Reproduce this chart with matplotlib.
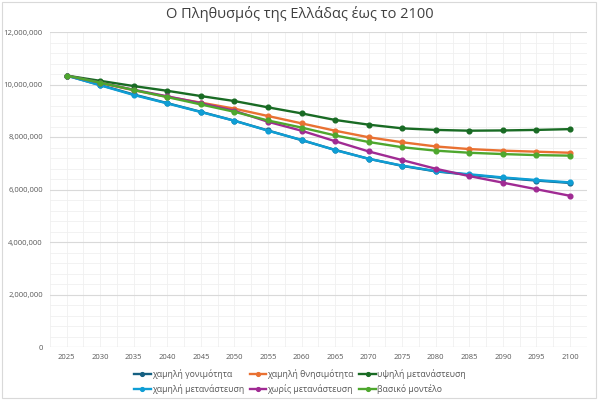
import numpy as np
import matplotlib
matplotlib.use("Agg")
import matplotlib.pyplot as plt
from matplotlib.ticker import FuncFormatter, MultipleLocator
from matplotlib.patches import Rectangle

years = [str(y) for y in range(2025, 2101, 5)]

# values in millions
low_fertility = [10.34, 9.98, 9.62, 9.29, 8.96, 8.62, 8.25, 7.88, 7.51, 7.17, 6.90, 6.69, 6.56, 6.44, 6.34, 6.25]
low_mortality = [10.34, 10.06, 9.78, 9.53, 9.31, 9.08, 8.80, 8.52, 8.24, 7.99, 7.80, 7.64, 7.54, 7.48, 7.44, 7.40]
high_migration = [10.34, 10.14, 9.94, 9.76, 9.56, 9.37, 9.13, 8.90, 8.65, 8.47, 8.33, 8.27, 8.24, 8.25, 8.27, 8.30]
low_migration = [10.34, 9.97, 9.60, 9.28, 8.95, 8.62, 8.24, 7.89, 7.50, 7.17, 6.91, 6.70, 6.58, 6.46, 6.36, 6.27]
no_migration = [10.34, 10.07, 9.80, 9.55, 9.29, 9.00, 8.58, 8.24, 7.84, 7.45, 7.12, 6.79, 6.51, 6.26, 6.01, 5.76]
base_model = [10.34, 10.07, 9.79, 9.52, 9.24, 8.96, 8.63, 8.36, 8.06, 7.81, 7.61, 7.48, 7.40, 7.35, 7.31, 7.29]

series = [
    ("χαμηλή γονιμότητα", low_fertility, "#156082"),
    ("χαμηλή θνησιμότητα", low_mortality, "#E97132"),
    ("υψηλή μετανάστευση", high_migration, "#196B24"),
    ("χαμηλή μετανάστευση", low_migration, "#0F9ED5"),
    ("χωρίς μετανάστευση", no_migration, "#A02B93"),
    ("βασικό μοντέλο", base_model, "#4EA72E"),
]

plt.rcParams['font.family'] = ['Open Sans', 'DejaVu Sans']

fig = plt.figure(figsize=(6, 4), dpi=100)
fig.set_facecolor('#FFFFFF')
ax = fig.add_axes([0.083, 0.1325, 0.895, 0.7875])

x = np.arange(len(years))
handles = []
for name, vals, color in series:
    h, = ax.plot(x, np.array(vals) * 1e6, color=color, lw=1.7, marker='o',
                 markersize=3.4, label=name, zorder=3)
    handles.append(h)

ax.set_xlim(-0.5, len(years) - 0.5)
ax.set_ylim(0, 12e6)
ax.set_xticks(x)
ax.set_xticklabels(years)
ax.xaxis.set_minor_locator(MultipleLocator(0.5))
ax.yaxis.set_major_locator(MultipleLocator(2e6))
ax.yaxis.set_minor_locator(MultipleLocator(4e5))
ax.yaxis.set_major_formatter(FuncFormatter(lambda v, pos: f'{int(v):,}'))

ax.grid(which='major', axis='y', color='#D9D9D9', lw=0.8, zorder=0)
ax.grid(which='minor', axis='both', color='#F0F0F0', lw=0.6, zorder=0)
ax.grid(which='major', axis='x', color='#F0F0F0', lw=0.6, zorder=0)
ax.tick_params(which='both', length=0)
ax.tick_params(axis='both', labelsize=5.5, colors='#595959', pad=5)
for s in ax.spines.values():
    s.set_visible(False)
ax.axhline(0, color='#D9D9D9', lw=0.8, zorder=1)

fig.suptitle('Ο Πληθυσμός της Ελλάδας έως το 2100', y=0.985, fontsize=10.5,
             color='#404040')

order = [0, 3, 1, 4, 2, 5]
fig.legend([handles[i] for i in order], [series[i][0] for i in order],
           ncol=3, loc='lower center', bbox_to_anchor=(0.5, -0.005), frameon=False,
           fontsize=6.3, labelcolor='#595959', handlelength=1.9, markerscale=0.8,
           handletextpad=0.15, columnspacing=0.6, labelspacing=0.55)

fig.patches.append(Rectangle((0.003, 0.005), 0.99, 0.99, transform=fig.transFigure,
                             fill=False, edgecolor='#D9D9D9', lw=0.8))

plt.savefig('out.png', dpi=100)
